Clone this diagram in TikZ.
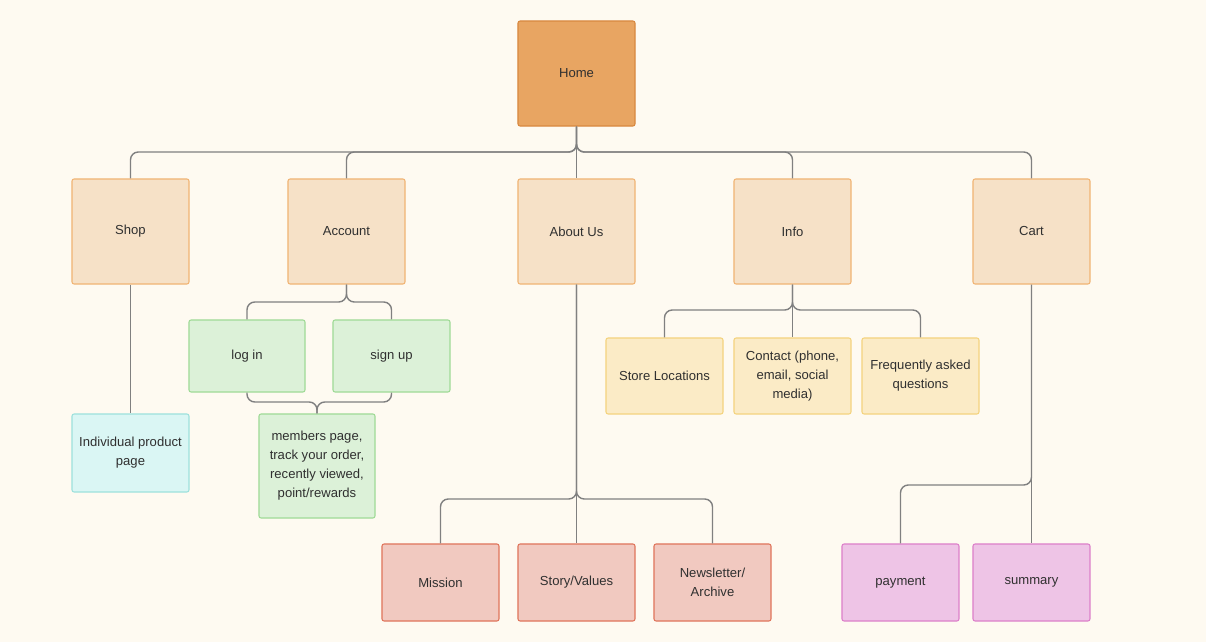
\documentclass[tikz,border=0pt]{standalone}
\usepackage{fontspec}
\setmainfont{Liberation Sans}
\usepackage{xcolor}
\usetikzlibrary{calc}

\definecolor{fond}{HTML}{FEFAF1}
\definecolor{trait}{HTML}{808080}
\definecolor{texte}{HTML}{303030}
\definecolor{homefill}{HTML}{E8A562}
\definecolor{homedraw}{HTML}{D8883F}
\definecolor{pagefill}{HTML}{F6E1C7}
\definecolor{pagedraw}{HTML}{F1B474}
\definecolor{vertfill}{HTML}{DCF1D8}
\definecolor{vertdraw}{HTML}{9FDA96}
\definecolor{cyanfill}{HTML}{DAF6F4}
\definecolor{cyandraw}{HTML}{9EE1DC}
\definecolor{jaunefill}{HTML}{FBEBC6}
\definecolor{jaunedraw}{HTML}{F4D37E}
\definecolor{rougefill}{HTML}{F1C9C0}
\definecolor{rougedraw}{HTML}{E0755C}
\definecolor{rosefill}{HTML}{EEC4E6}
\definecolor{rosedraw}{HTML}{DD80CA}

\tikzset{box/.style={rectangle, rounded corners=1.5pt, line width=0.75pt,
    minimum width=2.925cm, text=texte, align=center,
    font=\fontsize{9.3}{13.5}\selectfont},
  homebox/.style={box, fill=homefill, draw=homedraw, minimum height=2.625cm},
  pagebox/.style={box, fill=pagefill, draw=pagedraw, minimum height=2.625cm},
  vertbox/.style={box, fill=vertfill, draw=vertdraw},
  cyanbox/.style={box, fill=cyanfill, draw=cyandraw, minimum height=1.95cm},
  jaunebox/.style={box, fill=jaunefill, draw=jaunedraw, minimum height=1.9cm},
  rougebox/.style={box, fill=rougefill, draw=rougedraw, minimum height=1.925cm},
  rosebox/.style={box, fill=rosefill, draw=rosedraw, minimum height=1.925cm},
  lien/.style={draw=trait, line width=1pt, rounded corners=5.5pt}}

\begin{document}
\begin{tikzpicture}[x=0.025cm, y=-0.025cm]
% fond
\fill[fond] (0,0) rectangle (1206,642);
\useasboundingbox (0,0) rectangle (1206,642);

%%% niveau 1
\node[homebox] (home) at (576.5,73.5) {Home};

%%% niveau 2
\node[pagebox] (shop) at (130.5,231.5) {Shop};
\node[pagebox] (account) at (346.5,231.5) {Account};
\node[pagebox] (about) at (576.5,231.5) {About Us};
\node[pagebox] (info) at (792.5,231.5) {Info};
\node[pagebox] (cart) at (1031.5,231.5) {Cart};

%%% niveau 3
% shop
\node[cyanbox] (product) at (130.5,453) {Individual product\\page};

% account
\node[vertbox, minimum width=2.9cm, minimum height=1.8cm] (login) at (247,356) {log in};
\node[vertbox, minimum height=1.8cm] (signup) at (391.5,356) {sign up};
\node[vertbox, minimum width=2.9cm, minimum height=2.6cm] (members) at (317,466)
  {members page,\\track your order,\\recently viewed,\\point/rewards};

% info
\node[jaunebox] (stores) at (664.5,376) {Store Locations};
\node[jaunebox] (contact) at (792.5,376) {Contact (phone,\\email, social\\media)};
\node[jaunebox] (faq) at (920.5,376) {Frequently asked\\questions};

% about us
\node[rougebox] (mission) at (440.5,582.5) {Mission};
\node[rougebox] (story) at (576.5,582.5) {Story/Values};
\node[rougebox] (news) at (712.5,582.5) {Newsletter/\\Archive};

% cart
\node[rosebox] (payment) at (900.5,582.5) {payment};
\node[rosebox] (summary) at (1031.5,582.5) {summary};

%%% jonctions
\coordinate (homebus) at (576.5,152);
\coordinate (accbus) at (346.5,302);
\coordinate (membus) at (317,402);
\coordinate (infobus) at (792.5,310);
\coordinate (aboutbus) at (576.5,499);
\coordinate (cartbus) at (1031.5,485);

%%% liens
% home
\draw[lien] (shop.north) |- (homebus) -- (home.south);
\draw[lien] (account.north) |- (homebus) -- (home.south);
\draw[lien] (info.north) |- (homebus) -- (home.south);
\draw[lien] (cart.north) |- (homebus) -- (home.south);
\draw[lien] (home.south) -- (about.north);

% shop
\draw[lien] (shop.south) -- (product.north);

% account
\draw[lien] (login.north) |- (accbus) -- (account.south);
\draw[lien] (signup.north) |- (accbus) -- (account.south);
\draw[lien] (login.south) |- (membus) -- (members.north);
\draw[lien] (signup.south) |- (membus) -- (members.north);

% info
\draw[lien] (stores.north) |- (infobus) -- (info.south);
\draw[lien] (faq.north) |- (infobus) -- (info.south);
\draw[lien] (info.south) -- (contact.north);

% about us
\draw[lien] (mission.north) |- (aboutbus) -- (about.south);
\draw[lien] (news.north) |- (aboutbus) -- (about.south);
\draw[lien] (about.south) -- (story.north);

% cart
\draw[lien] (payment.north) |- (cartbus) -- (cart.south);
\draw[lien] (cart.south) -- (summary.north);
\end{tikzpicture}
\end{document}
